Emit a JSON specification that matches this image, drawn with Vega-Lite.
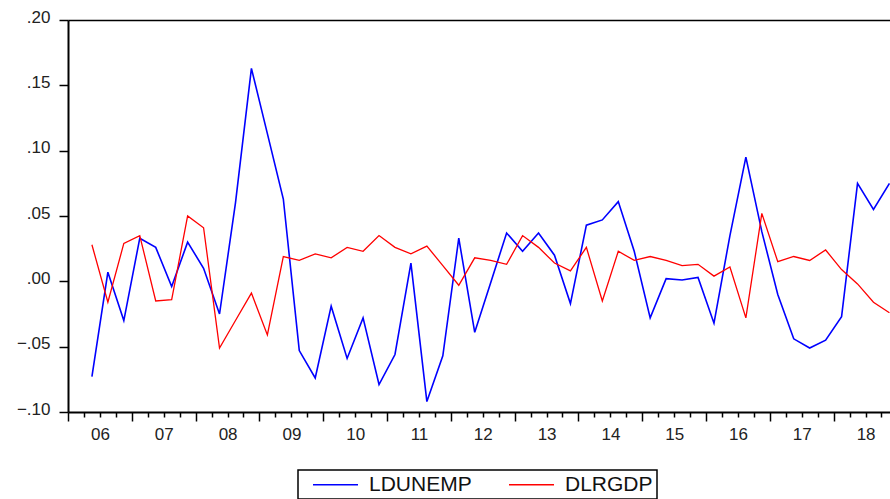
{
  "$schema": "https://vega.github.io/schema/vega-lite/v6.json",
  "width": 822,
  "height": 392,
  "autosize": {"type": "none"},
  "padding": {"left": 68, "top": 20, "right": 0, "bottom": 87},
  "background": "white",
  "config": {
    "view": {"stroke": null},
    "font": "Liberation Sans"
  },
  "datasets": {
    "ldunemp": [
      {"t": 2006.375, "series": "LDUNEMP", "value": -0.073},
      {"t": 2006.625, "series": "LDUNEMP", "value": 0.007},
      {"t": 2006.875, "series": "LDUNEMP", "value": -0.030},
      {"t": 2007.125, "series": "LDUNEMP", "value": 0.033},
      {"t": 2007.375, "series": "LDUNEMP", "value": 0.026},
      {"t": 2007.625, "series": "LDUNEMP", "value": -0.004},
      {"t": 2007.875, "series": "LDUNEMP", "value": 0.030},
      {"t": 2008.125, "series": "LDUNEMP", "value": 0.010},
      {"t": 2008.375, "series": "LDUNEMP", "value": -0.025},
      {"t": 2008.625, "series": "LDUNEMP", "value": 0.060},
      {"t": 2008.875, "series": "LDUNEMP", "value": 0.163},
      {"t": 2009.125, "series": "LDUNEMP", "value": 0.113},
      {"t": 2009.375, "series": "LDUNEMP", "value": 0.063},
      {"t": 2009.625, "series": "LDUNEMP", "value": -0.053},
      {"t": 2009.875, "series": "LDUNEMP", "value": -0.074},
      {"t": 2010.125, "series": "LDUNEMP", "value": -0.019},
      {"t": 2010.375, "series": "LDUNEMP", "value": -0.059},
      {"t": 2010.625, "series": "LDUNEMP", "value": -0.028},
      {"t": 2010.875, "series": "LDUNEMP", "value": -0.079},
      {"t": 2011.125, "series": "LDUNEMP", "value": -0.056},
      {"t": 2011.375, "series": "LDUNEMP", "value": 0.014},
      {"t": 2011.625, "series": "LDUNEMP", "value": -0.092},
      {"t": 2011.875, "series": "LDUNEMP", "value": -0.057},
      {"t": 2012.125, "series": "LDUNEMP", "value": 0.033},
      {"t": 2012.375, "series": "LDUNEMP", "value": -0.039},
      {"t": 2012.625, "series": "LDUNEMP", "value": -0.001},
      {"t": 2012.875, "series": "LDUNEMP", "value": 0.037},
      {"t": 2013.125, "series": "LDUNEMP", "value": 0.023},
      {"t": 2013.375, "series": "LDUNEMP", "value": 0.037},
      {"t": 2013.625, "series": "LDUNEMP", "value": 0.020},
      {"t": 2013.875, "series": "LDUNEMP", "value": -0.017},
      {"t": 2014.125, "series": "LDUNEMP", "value": 0.043},
      {"t": 2014.375, "series": "LDUNEMP", "value": 0.047},
      {"t": 2014.625, "series": "LDUNEMP", "value": 0.061},
      {"t": 2014.875, "series": "LDUNEMP", "value": 0.023},
      {"t": 2015.125, "series": "LDUNEMP", "value": -0.028},
      {"t": 2015.375, "series": "LDUNEMP", "value": 0.002},
      {"t": 2015.625, "series": "LDUNEMP", "value": 0.001},
      {"t": 2015.875, "series": "LDUNEMP", "value": 0.003},
      {"t": 2016.125, "series": "LDUNEMP", "value": -0.032},
      {"t": 2016.375, "series": "LDUNEMP", "value": 0.035},
      {"t": 2016.625, "series": "LDUNEMP", "value": 0.095},
      {"t": 2016.875, "series": "LDUNEMP", "value": 0.038},
      {"t": 2017.125, "series": "LDUNEMP", "value": -0.010},
      {"t": 2017.375, "series": "LDUNEMP", "value": -0.044},
      {"t": 2017.625, "series": "LDUNEMP", "value": -0.051},
      {"t": 2017.875, "series": "LDUNEMP", "value": -0.045},
      {"t": 2018.125, "series": "LDUNEMP", "value": -0.027},
      {"t": 2018.375, "series": "LDUNEMP", "value": 0.075},
      {"t": 2018.625, "series": "LDUNEMP", "value": 0.055},
      {"t": 2018.875, "series": "LDUNEMP", "value": 0.075}
    ],
    "dlrgdp": [
      {"t": 2006.375, "series": "DLRGDP", "value": 0.028},
      {"t": 2006.625, "series": "DLRGDP", "value": -0.016},
      {"t": 2006.875, "series": "DLRGDP", "value": 0.029},
      {"t": 2007.125, "series": "DLRGDP", "value": 0.035},
      {"t": 2007.375, "series": "DLRGDP", "value": -0.015},
      {"t": 2007.625, "series": "DLRGDP", "value": -0.014},
      {"t": 2007.875, "series": "DLRGDP", "value": 0.050},
      {"t": 2008.125, "series": "DLRGDP", "value": 0.041},
      {"t": 2008.375, "series": "DLRGDP", "value": -0.051},
      {"t": 2008.625, "series": "DLRGDP", "value": -0.030},
      {"t": 2008.875, "series": "DLRGDP", "value": -0.009},
      {"t": 2009.125, "series": "DLRGDP", "value": -0.041},
      {"t": 2009.375, "series": "DLRGDP", "value": 0.019},
      {"t": 2009.625, "series": "DLRGDP", "value": 0.016},
      {"t": 2009.875, "series": "DLRGDP", "value": 0.021},
      {"t": 2010.125, "series": "DLRGDP", "value": 0.018},
      {"t": 2010.375, "series": "DLRGDP", "value": 0.026},
      {"t": 2010.625, "series": "DLRGDP", "value": 0.023},
      {"t": 2010.875, "series": "DLRGDP", "value": 0.035},
      {"t": 2011.125, "series": "DLRGDP", "value": 0.026},
      {"t": 2011.375, "series": "DLRGDP", "value": 0.021},
      {"t": 2011.625, "series": "DLRGDP", "value": 0.027},
      {"t": 2011.875, "series": "DLRGDP", "value": 0.012},
      {"t": 2012.125, "series": "DLRGDP", "value": -0.003},
      {"t": 2012.375, "series": "DLRGDP", "value": 0.018},
      {"t": 2012.625, "series": "DLRGDP", "value": 0.016},
      {"t": 2012.875, "series": "DLRGDP", "value": 0.013},
      {"t": 2013.125, "series": "DLRGDP", "value": 0.035},
      {"t": 2013.375, "series": "DLRGDP", "value": 0.026},
      {"t": 2013.625, "series": "DLRGDP", "value": 0.014},
      {"t": 2013.875, "series": "DLRGDP", "value": 0.008},
      {"t": 2014.125, "series": "DLRGDP", "value": 0.026},
      {"t": 2014.375, "series": "DLRGDP", "value": -0.015},
      {"t": 2014.625, "series": "DLRGDP", "value": 0.023},
      {"t": 2014.875, "series": "DLRGDP", "value": 0.016},
      {"t": 2015.125, "series": "DLRGDP", "value": 0.019},
      {"t": 2015.375, "series": "DLRGDP", "value": 0.016},
      {"t": 2015.625, "series": "DLRGDP", "value": 0.012},
      {"t": 2015.875, "series": "DLRGDP", "value": 0.013},
      {"t": 2016.125, "series": "DLRGDP", "value": 0.004},
      {"t": 2016.375, "series": "DLRGDP", "value": 0.011},
      {"t": 2016.625, "series": "DLRGDP", "value": -0.028},
      {"t": 2016.875, "series": "DLRGDP", "value": 0.052},
      {"t": 2017.125, "series": "DLRGDP", "value": 0.015},
      {"t": 2017.375, "series": "DLRGDP", "value": 0.019},
      {"t": 2017.625, "series": "DLRGDP", "value": 0.016},
      {"t": 2017.875, "series": "DLRGDP", "value": 0.024},
      {"t": 2018.125, "series": "DLRGDP", "value": 0.009},
      {"t": 2018.375, "series": "DLRGDP", "value": -0.002},
      {"t": 2018.625, "series": "DLRGDP", "value": -0.016},
      {"t": 2018.875, "series": "DLRGDP", "value": -0.024}
    ]
  },
  "encoding": {
    "y": {
      "field": "value",
      "type": "quantitative",
      "scale": {"domain": [-0.1, 0.2], "nice": false, "zero": false},
      "axis": {
        "title": null,
        "values": [-0.1, -0.05, 0, 0.05, 0.1, 0.15, 0.2],
        "labelExpr": "replace(format(datum.value, '.2f'), '0.', '.')",
        "grid": false,
        "domainColor": "black",
        "domainWidth": 2,
        "tickColor": "black",
        "tickWidth": 1.5,
        "tickSize": 9,
        "labelPadding": 9,
        "labelFontSize": 17,
        "labelColor": "#222",
        "labelFont": "Liberation Sans",
        "labelBaseline": "middle",
        "labelOffset": -3,
        "labelBound": false,
        "labelFlush": false,
        "labelOverlap": false
      }
    },
    "color": {
      "field": "series",
      "type": "nominal",
      "scale": {"domain": ["LDUNEMP", "DLRGDP"], "range": ["#0000FF", "#FF0000"]},
      "legend": {
        "title": null,
        "orient": "none",
        "legendX": 230,
        "legendY": 450,
        "direction": "horizontal",
        "symbolType": "M-3,0H3",
        "symbolSize": 225,
        "symbolStrokeWidth": 1.5,
        "symbolOffset": 23,
        "labelFontSize": 21,
        "labelFont": "Liberation Sans",
        "labelColor": "#111",
        "labelOffset": 23,
        "columnPadding": 26,
        "padding": 4,
        "strokeColor": "black",
        "fillColor": "white",
        "encode": {"legend": {"update": {"strokeWidth": {"value": 1.5}}}}
      }
    }
  },
  "layer": [
    {
      "data": {"name": "ldunemp"},
      "mark": {"type": "line", "strokeWidth": 1.6, "clip": true},
      "encoding": {
        "x": {
          "field": "t",
          "type": "quantitative",
          "scale": {"domain": [2006, 2018.884], "nice": false, "zero": false},
          "axis": {
            "orient": "bottom",
            "title": null,
            "grid": false,
            "values": [2006, 2006.25, 2006.5, 2006.75, 2007, 2007.25, 2007.5, 2007.75, 2008, 2008.25, 2008.5, 2008.75, 2009, 2009.25, 2009.5, 2009.75, 2010, 2010.25, 2010.5, 2010.75, 2011, 2011.25, 2011.5, 2011.75, 2012, 2012.25, 2012.5, 2012.75, 2013, 2013.25, 2013.5, 2013.75, 2014, 2014.25, 2014.5, 2014.75, 2015, 2015.25, 2015.5, 2015.75, 2016, 2016.25, 2016.5, 2016.75, 2017, 2017.25, 2017.5, 2017.75, 2018, 2018.25, 2018.5, 2018.75],
            "labelExpr": "datum.value % 1 === 0 ? substring(format(datum.value, 'd'), 2, 4) : ''",
            "tickSize": {"condition": {"test": "datum.value % 1 === 0", "value": 9}, "value": 5},
            "tickColor": "black",
            "tickWidth": 1.5,
            "domainColor": "black",
            "domainWidth": 2,
            "labelOffset": 32,
            "labelPadding": 5,
            "labelFontSize": 17,
            "labelFont": "Liberation Sans",
            "labelColor": "#222",
            "labelBound": false,
            "labelFlush": false,
            "labelOverlap": false
          }
        }
      }
    },
    {
      "data": {"name": "dlrgdp"},
      "mark": {"type": "line", "strokeWidth": 1.3, "clip": true},
      "encoding": {
        "x": {
          "field": "t",
          "type": "quantitative",
          "axis": {
            "orient": "top",
            "title": null,
            "grid": false,
            "ticks": false,
            "labels": false,
            "domainColor": "black",
            "domainWidth": 1.5
          }
        }
      }
    }
  ],
  "resolve": {"axis": {"x": "independent"}}
}
